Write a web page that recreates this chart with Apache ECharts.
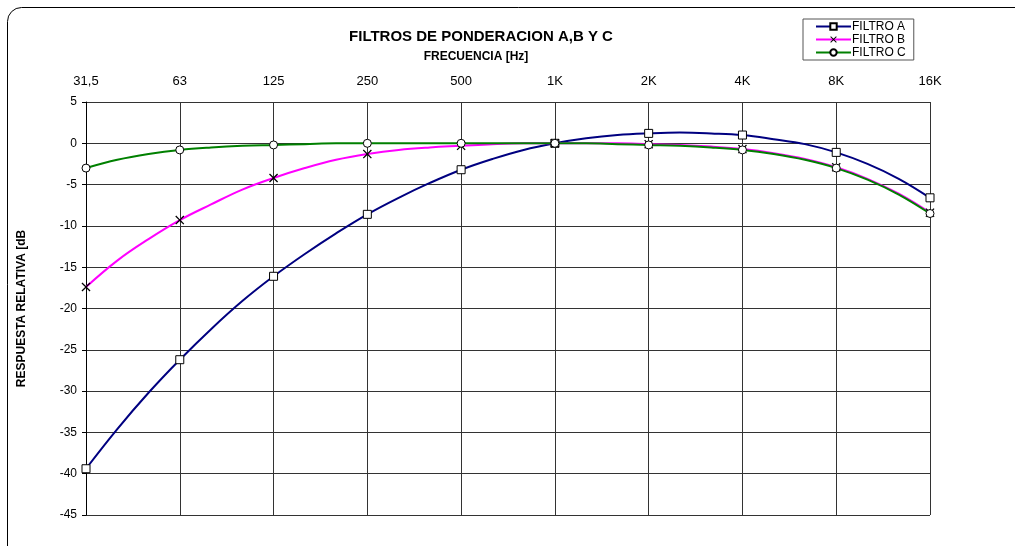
<!DOCTYPE html>
<html>
<head>
<meta charset="utf-8">
<script src="https://cdn.jsdelivr.net/npm/echarts@6/dist/echarts.min.js"></script>
<style>
  html, body { margin: 0; padding: 0; background: #fff; }
  #chart { width: 1015px; height: 546px; }
</style>
</head>
<body>
<div id="chart"></div>
<script>
// third-octave bands, labels shown every 3rd (octaves)
var bands = ['31,5', '40', '50', '63', '80', '100', '125', '160', '200', '250', '315', '400',
  '500', '630', '800', '1K', '1,25K', '1,6K', '2K', '2,5K', '3,15K', '4K', '5K', '6,3K',
  '8K', '10K', '12,5K', '16K'];
var filtroA = [-39.4, -34.6, -30.2, -26.2, -22.5, -19.1, -16.1, -13.4, -10.9, -8.6, -6.6, -4.8,
  -3.2, -1.9, -0.8, 0, 0.6, 1.0, 1.2, 1.3, 1.2, 1.0, 0.5, -0.1, -1.1, -2.5, -4.3, -6.6];
var filtroB = [-17.4, -14.2, -11.6, -9.3, -7.4, -5.6, -4.2, -3.0, -2.0, -1.3, -0.8, -0.5,
  -0.3, -0.1, 0, 0, 0, 0, -0.1, -0.2, -0.4, -0.7, -1.2, -1.9, -2.9, -4.3, -6.1, -8.4];
var filtroC = [-3.0, -2.0, -1.3, -0.8, -0.5, -0.3, -0.2, -0.1, 0, 0, 0, 0,
  0, 0, 0, 0, 0, -0.1, -0.2, -0.3, -0.5, -0.8, -1.3, -2.0, -3.0, -4.4, -6.2, -8.5];

var font = 'Liberation Sans, Arial, sans-serif';
var crossPath = 'path://M0,1L1,0L5,4L9,0L10,1L6,5L10,9L9,10L5,6L1,10L0,9L4,5Z';

// markers only on the octave bands
function withMarkers(vals) {
  return vals.map(function (v, i) {
    return i % 3 === 0 ? v : { value: v, symbol: 'none' };
  });
}

function lineSeries(name, vals, color, symbol, size, fill, border) {
  return {
    name: name,
    type: 'line',
    smooth: 0.4,
    symbol: symbol,
    symbolSize: size,
    showAllSymbol: true,
    lineStyle: { color: color, width: 2 },
    itemStyle: { color: fill, borderColor: '#000', borderWidth: border },
    data: withMarkers(vals),
  };
}

var chart = echarts.init(document.getElementById('chart'));
chart.setOption({
  animation: false,
  textStyle: { fontFamily: font },
  title: [
    {
      text: 'FILTROS DE PONDERACION A,B Y C',
      left: 476, top: 24, textAlign: 'center',
      textStyle: { fontSize: 15, fontWeight: 'bold', color: '#000', fontFamily: font },
    },
    {
      text: 'FRECUENCIA [Hz]',
      left: 471, top: 46, textAlign: 'center',
      textStyle: { fontSize: 12, fontWeight: 'bold', color: '#000', fontFamily: font },
    },
  ],
  legend: {
    left: 803, top: 19,
    orient: 'vertical',
    itemGap: 0,
    itemWidth: 35,
    itemHeight: 8,
    padding: [1, 8, 1, 12],
    borderColor: '#555',
    borderWidth: 1,
    textStyle: { fontSize: 12, lineHeight: 13, color: '#000', fontFamily: font, padding: [0, 0, 0, -4] },
  },
  graphic: [
    {
      type: 'rect',
      shape: { x: 7.5, y: 7.5, width: 1030, height: 560, r: 14 },
      style: { fill: 'none', stroke: '#000', lineWidth: 1 },
      z: -1,
    },
  ],
  grid: { left: 86, right: 85, top: 102, bottom: 31 },
  xAxis: {
    type: 'category',
    position: 'top',
    boundaryGap: false,
    data: bands,
    axisLine: { show: false },
    axisTick: { show: false },
    axisLabel: { interval: 2, fontSize: 13, color: '#000', margin: 14 },
    splitLine: { show: true, interval: 2, lineStyle: { color: '#333', width: 1 } },
  },
  yAxis: {
    type: 'value',
    min: -45, max: 5, interval: 5,
    name: 'RESPUESTA RELATIVA [dB',
    nameLocation: 'middle',
    nameRotate: 90,
    nameGap: 58,
    nameTextStyle: { fontSize: 12, fontWeight: 'bold', color: '#000' },
    axisLine: { show: true, lineStyle: { color: '#000' } },
    axisTick: { show: true, length: 4, lineStyle: { color: '#000' } },
    axisLabel: { fontSize: 12, color: '#000', margin: 9 },
    splitLine: { show: true, lineStyle: { color: '#333', width: 1 } },
  },
  series: [
    lineSeries('FILTRO A', filtroA, '#000080', 'rect', 8, '#fff', 1),
    lineSeries('FILTRO B', filtroB, '#ff00ff', crossPath, 9, '#000', 0),
    lineSeries('FILTRO C', filtroC, '#008000', 'circle', 8, '#fff', 1),
  ],
});
</script>
</body>
</html>
